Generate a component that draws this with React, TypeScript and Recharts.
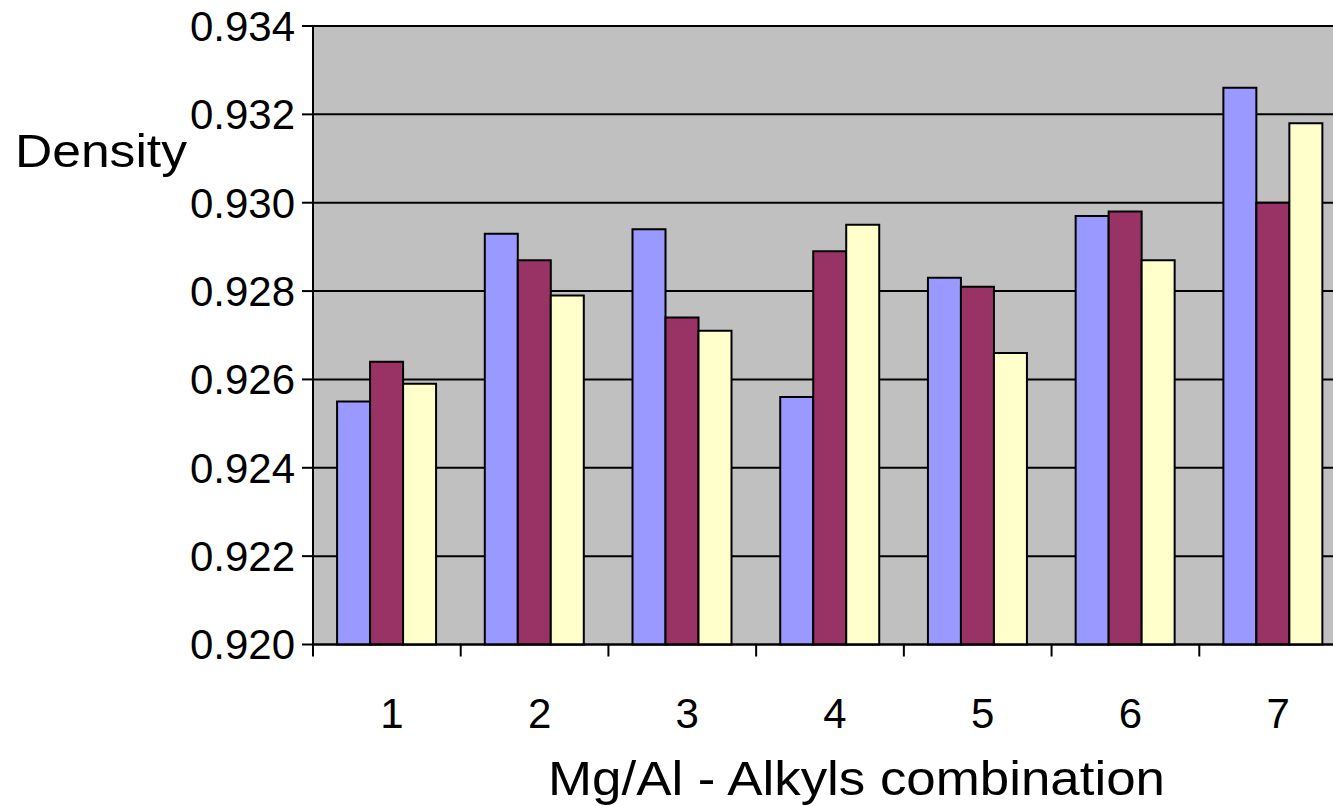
import { BarChart, Bar, XAxis, YAxis, CartesianGrid, Label } from "recharts";

const categories = ["1", "2", "3", "4", "5", "6", "7"];
const series1 = [0.9255, 0.9293, 0.9294, 0.9256, 0.9283, 0.9297, 0.9326];
const series2 = [0.9264, 0.9287, 0.9274, 0.9289, 0.9281, 0.9298, 0.93];
const series3 = [0.9259, 0.9279, 0.9271, 0.9295, 0.9266, 0.9287, 0.9318];
const yTicks = [0.92, 0.922, 0.924, 0.926, 0.928, 0.93, 0.932, 0.934];

const FONT = '"Liberation Sans", Arial, sans-serif';

const chartData = categories.map((c, i) => ({
  name: c,
  s1: series1[i],
  s2: series2[i],
  s3: series3[i],
}));

function CategoryTick(props: any) {
  const { x, y, payload, index } = props;
  const half = payload?.offset ?? 73.85;
  return (
    <g>
      <line x1={x - half} x2={x - half} y1={y} y2={y + 12} stroke="#000" strokeWidth={2} />
      {index === categories.length - 1 && (
        <line x1={x + half} x2={x + half} y1={y} y2={y + 12} stroke="#000" strokeWidth={2} />
      )}
      <text x={x + 5} y={y + 83} textAnchor="middle" fontSize={42} fontFamily={FONT} fill="#000">
        {payload.value}
      </text>
    </g>
  );
}

export default function App() {
  return (
    <div
      style={{
        position: "fixed",
        left: 0,
        top: 0,
        width: 1333,
        height: 806,
        overflow: "hidden",
        background: "#fff",
      }}
    >
      <BarChart
        width={1360}
        height={806}
        data={chartData}
        margin={{ top: 26, right: 13, bottom: 0, left: 0 }}
        barCategoryGap="16.3%"
        barGap={0}
      >
        <CartesianGrid vertical={false} stroke="#000" strokeWidth={2} fill="#C0C0C0" />
        <XAxis
          dataKey="name"
          height={161.5}
          axisLine={{ stroke: "#000", strokeWidth: 2 }}
          tickLine={false}
          tickSize={0}
          tickMargin={0}
          interval={0}
          tick={<CategoryTick />}
        >
          <Label
            content={() => (
              <text
                x={548}
                y={795}
                textAnchor="start"
                fontSize={49}
                fontFamily={FONT}
                fill="#000"
                textLength={617}
                lengthAdjust="spacingAndGlyphs"
              >
                Mg/Al - Alkyls combination
              </text>
            )}
          />
        </XAxis>
        <YAxis
          width={313}
          domain={[0.92, 0.934]}
          ticks={yTicks}
          interval={0}
          tickFormatter={(v: number) => v.toFixed(3)}
          axisLine={{ stroke: "#000", strokeWidth: 2 }}
          tickLine={{ stroke: "#000", strokeWidth: 2 }}
          tickSize={11}
          tickMargin={7}
          tick={{ fontSize: 42, fontFamily: FONT, fill: "#000" }}
        >
          <Label
            content={() => (
              <text
                x={15}
                y={167}
                textAnchor="start"
                fontSize={47}
                fontFamily={FONT}
                fill="#000"
                textLength={172}
                lengthAdjust="spacingAndGlyphs"
              >
                Density
              </text>
            )}
          />
        </YAxis>
        <Bar dataKey="s1" fill="#9999FF" stroke="#000" strokeWidth={2} isAnimationActive={false} />
        <Bar dataKey="s2" fill="#993366" stroke="#000" strokeWidth={2} isAnimationActive={false} />
        <Bar dataKey="s3" fill="#FFFFCC" stroke="#000" strokeWidth={2} isAnimationActive={false} />
      </BarChart>
    </div>
  );
}
